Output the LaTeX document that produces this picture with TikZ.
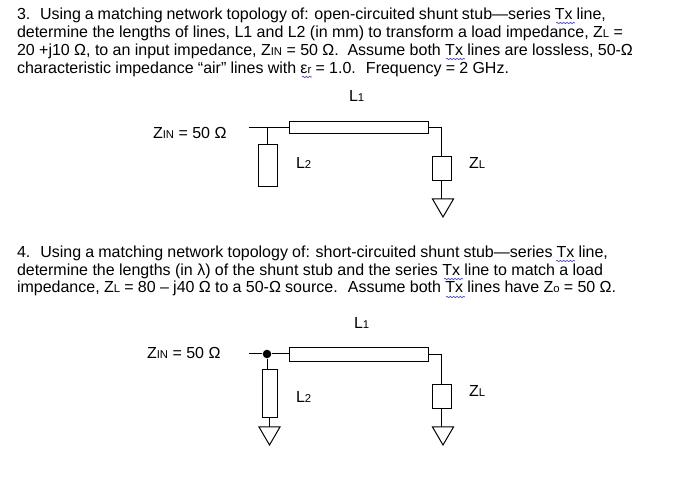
\documentclass[tikz,border=0pt]{standalone}
\usepackage{fontspec}
\setmainfont{Liberation Sans}
\usetikzlibrary{decorations.pathmorphing}
\definecolor{squigcolor}{RGB}{70,70,190}
\newcommand{\lowtxt}[1]{{\fontsize{8.5}{8.5}\selectfont #1}}
\newcommand{\fitline}[2]{\makebox[#1][s]{#2}}
\tikzset{
    txt/.style={anchor=base west, inner sep=0, outer sep=0, font=\fontsize{12}{12}\selectfont},
    wire/.style={line width=0.75pt},
    boxpart/.style={draw, line width=0.75pt, inner sep=0, outer sep=0},
    squig/.style={color=squigcolor, line width=0.5pt, decorate, decoration={snake, segment length=2.5pt, amplitude=0.5pt}}
}
\begin{document}
\begin{tikzpicture}[x=0.75pt, y=-0.75pt]
    \useasboundingbox (0,0) rectangle (686,491);

    % Problem 3 text
    \node[txt] (pthreea) at (17,20) {\fitline{441.75pt}{3.~ Using a matching network topology of: open-circuited shunt stub—series Tx line,}};
    \node[txt] (pthreeb) at (17,38) {\fitline{454.5pt}{determine the lengths of lines, L1 and L2 (in mm) to transform a load impedance, Z\lowtxt{L} =}};
    \node[txt] (pthreec) at (17,56) {\fitline{462pt}{20 +j10 Ω, to an input impedance, Z\lowtxt{IN} = 50 Ω.~ Assume both Tx lines are lossless, 50-Ω}};
    \node[txt] (pthreed) at (17,74) {\fitline{369pt}{characteristic impedance “air” lines with ε\lowtxt{r} = 1.0.~ Frequency = 2 GHz.}};
    % Spelling marks
    \foreach \xa/\xb/\y in {556/575/23, 446/465/59, 302/312/77, 556/575/261, 444/463/279, 446/465/297}
        \draw[squig] (\xa,\y) -- (\xb,\y);

    % First circuit
    \node[txt] (lonea) at (349,102) {L\lowtxt{1}};
    \node[txt] (zina) at (153,139) {Z\lowtxt{IN} = 50 Ω};
    \node[txt] (ltwoa) at (296,169) {L\lowtxt{2}};
    \node[txt] (zla) at (469,169) {Z\lowtxt{L}};
    \node[boxpart, minimum width=104.25pt, minimum height=8.6pt] (linea) at (358.5,127.5) {};
    \node[boxpart, minimum width=14.25pt, minimum height=31.5pt] (stuba) at (267.5,166) {};
    \node[boxpart, minimum width=14.25pt, minimum height=18pt] (loada) at (441.5,169) {};
    \coordinate (ina) at (249,127.5);
    \coordinate (teea) at (267.5,127.5);
    \coordinate (gnda) at (441.5,199);
    \draw[wire] (ina) -- (linea.west);
    \draw[wire] (teea) -- (stuba.north);
    \draw[wire] (linea.east) -| (loada.north);
    \draw[wire] (loada.south) -- (gnda);
    \draw[wire] (gnda) ++(-9,0) -- ++(21,0) -- ++(-10.5,18) -- cycle;

    % Problem 4 text
    \node[txt] (pfoura) at (17,258) {\fitline{443.25pt}{4.~ Using a matching network topology of: short-circuited shunt stub—series Tx line,}};
    \node[txt] (pfourb) at (17,276) {\fitline{439.5pt}{determine the lengths (in λ) of the shunt stub and the series Tx line to match a load}};
    \node[txt] (pfourc) at (17,293) {\fitline{449.25pt}{impedance, Z\lowtxt{L} = 80 – j40 Ω to a 50-Ω source.~ Assume both Tx lines have Z\lowtxt{o} = 50 Ω.}};

    % Second circuit
    \node[txt] (loneb) at (354,329) {L\lowtxt{1}};
    \node[txt] (zinb) at (147,359) {Z\lowtxt{IN} = 50 Ω};
    \node[txt] (ltwob) at (296,403) {L\lowtxt{2}};
    \node[txt] (zlb) at (469,397) {Z\lowtxt{L}};
    \node[boxpart, minimum width=104.25pt, minimum height=10.5pt] (lineb) at (358.5,355) {};
    \node[boxpart, minimum width=11.25pt, minimum height=36pt] (stubb) at (269.5,394) {};
    \node[boxpart, minimum width=14.25pt, minimum height=18pt] (loadb) at (441.5,397) {};
    \coordinate (inb) at (249,354);
    \node[fill, circle, inner sep=0, minimum size=6.4pt] (teeb) at (267,354) {};
    \coordinate (gndb) at (441.5,427);
    \coordinate (gndc) at (269.5,427);
    \draw[wire] (inb) -- (teeb);
    \draw[wire] (teeb) -- (lineb.west |- teeb);
    \draw[wire] (teeb) -- (teeb |- stubb.north);
    \draw[wire] (lineb.east) -| (loadb.north);
    \draw[wire] (loadb.south) -- (gndb);
    \draw[wire] (stubb.south) -- (gndc);
    \draw[wire] (gndb) ++(-9,0) -- ++(21,0) -- ++(-10.5,18) -- cycle;
    \draw[wire] (gndc) ++(-10.5,0) -- ++(21,0) -- ++(-10.5,18) -- cycle;
\end{tikzpicture}
\end{document}
